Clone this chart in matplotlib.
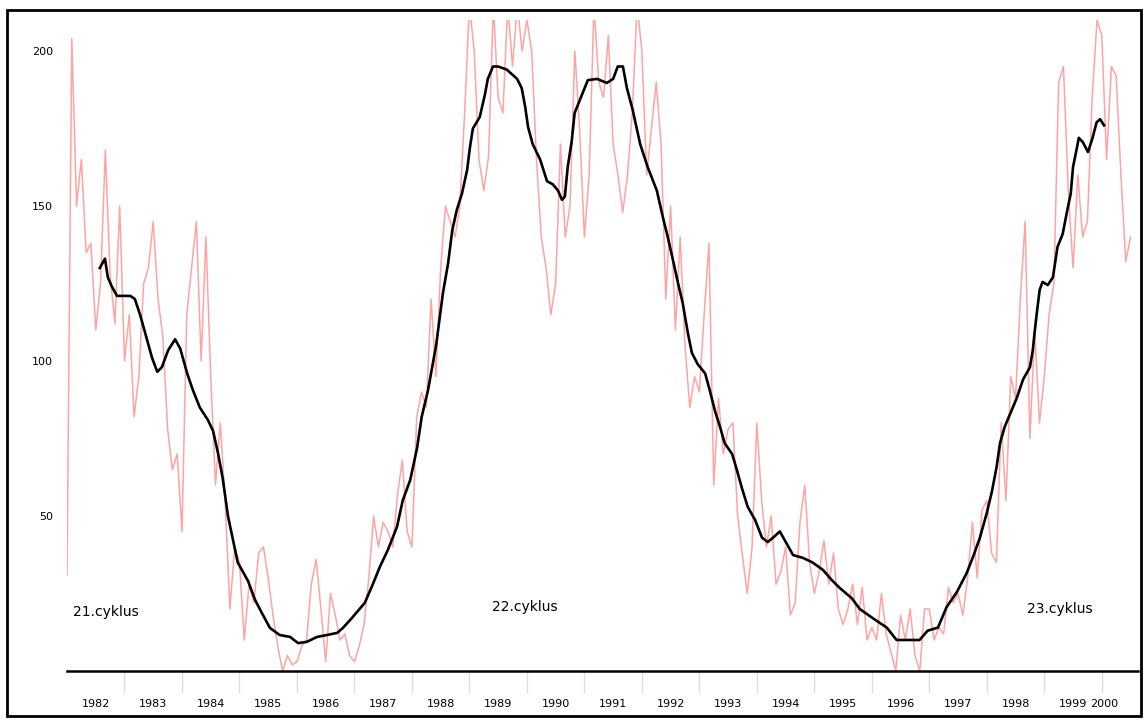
import numpy as np
import matplotlib.pyplot as plt
from matplotlib.patches import Rectangle

# Mesacne hodnoty (leden 1982 .. cervenec 2000)
r1982 = [31, 204, 150, 165, 135, 138, 110, 125, 168, 128, 112, 150]
r1983 = [100, 115, 82, 95, 125, 130, 145, 120, 108, 78, 65, 70]
r1984 = [45, 115, 130, 145, 100, 140, 95, 60, 80, 55, 20, 40]
r1985 = [35, 10, 28, 22, 38, 40, 30, 18, 8, 0, 5, 2]
r1986 = [3, 8, 10, 28, 36, 20, 3, 25, 18, 10, 12, 5]
r1987 = [3, 8, 15, 30, 50, 40, 48, 45, 40, 57, 68, 45]
r1988 = [40, 82, 90, 85, 120, 95, 130, 150, 145, 140, 150, 180]
r1989 = [215, 200, 165, 155, 166, 215, 185, 180, 215, 195, 215, 200]
r1990 = [210, 200, 165, 140, 130, 115, 125, 170, 140, 150, 200, 175]
r1991 = [140, 160, 215, 190, 185, 205, 170, 160, 148, 160, 180, 215]
r1992 = [200, 160, 175, 190, 170, 120, 150, 110, 140, 105, 85, 95]
r1993 = [90, 115, 138, 60, 88, 70, 78, 80, 50, 37, 25, 40]
r1994 = [80, 55, 40, 50, 28, 32, 40, 18, 22, 48, 60, 35]
r1995 = [25, 32, 42, 28, 38, 20, 15, 20, 28, 15, 27, 10]
r1996 = [14, 10, 25, 12, 6, 0, 18, 10, 20, 5, 0, 20]
r1997 = [20, 10, 14, 12, 27, 22, 25, 18, 30, 48, 30, 52]
r1998 = [55, 38, 35, 80, 55, 95, 88, 120, 145, 75, 110, 80]
r1999 = [95, 115, 125, 190, 195, 155, 130, 160, 140, 145, 185, 210]
r2000 = [205, 165, 195, 192, 160, 132, 140]

monthly = (r1982 + r1983 + r1984 + r1985 + r1986 + r1987 + r1988 + r1989 + r1990
           + r1991 + r1992 + r1993 + r1994 + r1995 + r1996 + r1997 + r1998 + r1999 + r2000)
month_pos = 1982 + np.arange(len(monthly)) / 12

# Vyhlazena krivka
smooth_years = [1982.57, 1982.66, 1982.71, 1982.78, 1982.87, 1983.10, 1983.18, 1983.27, 1983.36,
                1983.48, 1983.57, 1983.65, 1983.76, 1983.88, 1983.97, 1984.09, 1984.19, 1984.31,
                1984.45, 1984.54, 1984.63, 1984.71, 1984.80, 1984.89, 1984.97, 1985.15, 1985.27,
                1985.39, 1985.53, 1985.70, 1985.88, 1986.02, 1986.17, 1986.35, 1986.52, 1986.70,
                1986.80, 1986.97, 1987.18, 1987.32, 1987.44, 1987.58, 1987.74, 1987.84, 1987.97,
                1988.09, 1988.17, 1988.28, 1988.42, 1988.54, 1988.63, 1988.70, 1988.78, 1988.87,
                1988.96, 1989.01, 1989.06, 1989.18, 1989.27, 1989.32, 1989.41, 1989.50, 1989.65,
                1989.83, 1989.91, 1989.97, 1990.02, 1990.10, 1990.23, 1990.35, 1990.45, 1990.54,
                1990.61, 1990.66, 1990.71, 1990.78, 1990.83, 1990.96, 1991.06, 1991.22, 1991.39,
                1991.50, 1991.58, 1991.67, 1991.74, 1991.84, 1991.97, 1992.10, 1992.26, 1992.37,
                1992.45, 1992.54, 1992.63, 1992.71, 1992.80, 1992.87, 1992.97, 1993.10, 1993.18,
                1993.27, 1993.36, 1993.44, 1993.57, 1993.65, 1993.74, 1993.84, 1993.97, 1994.09,
                1994.19, 1994.28, 1994.40, 1994.49, 1994.63, 1994.80, 1994.97, 1995.15, 1995.30,
                1995.44, 1995.65, 1995.79, 1996.02, 1996.26, 1996.43, 1996.83, 1996.97, 1997.15,
                1997.30, 1997.48, 1997.65, 1997.76, 1997.88, 1998.00, 1998.09, 1998.17, 1998.23,
                1998.31, 1998.43, 1998.52, 1998.63, 1998.75, 1998.80, 1998.83, 1998.87, 1998.92,
                1998.97, 1999.06, 1999.15, 1999.23, 1999.32, 1999.39, 1999.46, 1999.50, 1999.57,
                1999.60, 1999.67, 1999.76, 1999.84, 1999.91, 1999.97, 2000.04]
smooth_values = [130, 133, 127, 124, 121, 121, 120, 115, 109,
                 101, 96.5, 98, 103.5, 107, 104, 96, 90.6, 85,
                 81, 77.5, 70, 62, 50, 42, 35, 29, 23,
                 18.7, 13.9, 11.6, 11, 9, 9.4, 11, 11.6, 12.3,
                 13.9, 17.4, 22, 28, 33.5, 39, 46.5, 55, 61.6,
                 72, 82, 90.6, 105, 122, 131.6, 142, 148.7, 154,
                 161.6, 169, 175, 178.7, 186, 191, 195, 195, 194,
                 191, 188, 182, 175.5, 170, 165, 158, 157, 155,
                 152, 153, 162.6, 171, 180, 186, 190.6, 191, 189.7,
                 191, 195, 195, 188, 181, 170, 162.6, 155, 146,
                 140, 132.6, 125, 118.7, 109, 102.6, 99, 96, 90.6,
                 84, 78.7, 73.5, 70, 65, 59, 53, 48.7, 43,
                 41.6, 43, 45, 42, 37.4, 36.5, 35, 32.6, 29.4,
                 26.8, 23.5, 20, 17, 14, 10, 10, 13, 14,
                 20.6, 25.5, 31.6, 36.8, 43, 51, 58, 65.8, 73.5,
                 78.7, 84, 88, 94, 98, 103.5, 109, 115.5, 123,
                 125.5, 124.5, 127, 136.8, 141, 147.7, 154, 162.6, 169,
                 172, 170.6, 167.4, 172, 177, 178, 176]

years = list(range(1982, 2001))
y_ticks = [50, 100, 150, 200]
cycle_labels = ['21.cyklus', '22.cyklus', '23.cyklus']
cycle_x = [1982.10, 1989.39, 1998.70]
cycle_y = [19, 20.5, 20]

x_min, x_max = 1982.0, 2000.63

fig = plt.figure(figsize=(11.47, 7.21), dpi=100)
ax = fig.add_axes([67 / 1147, 50 / 721, (1138 - 67) / 1147, (671 - 20) / 721])

ax.plot(month_pos, monthly, color='#ffa3a3', lw=1.1)
ax.plot(smooth_years, smooth_values, color='black', lw=1.9)

ax.set_xlim(x_min, x_max)
ax.set_ylim(0, 210)

for s in ['top', 'right', 'left']:
    ax.spines[s].set_visible(False)
ax.spines['bottom'].set_linewidth(1.8)

ax.set_yticks(y_ticks)
ax.tick_params(axis='y', length=0, pad=10, labelsize=8)

# popisky roku uprostred roku, posledni o kus vlevo
label_pos = [y + 0.5 for y in years]
label_pos[-1] = years[-1] + 0.05
ax.set_xticks(label_pos)
ax.set_xticklabels([str(y) for y in years])
ax.tick_params(axis='x', which='major', length=0, pad=20, labelsize=8)
ax.set_xticks(years[1:], minor=True)
ax.tick_params(axis='x', which='minor', length=16, width=1, color='#dddddd', direction='out')

for txt, tx, ty in zip(cycle_labels, cycle_x, cycle_y):
    ax.text(tx, ty, txt, fontsize=10, ha='left', va='center')

fig.patches.append(Rectangle((7 / 1147, 5 / 721), 1134 / 1147, 706 / 721,
                             transform=fig.transFigure, fill=False, lw=2, ec='black'))

fig.savefig('out.png', dpi=100)
